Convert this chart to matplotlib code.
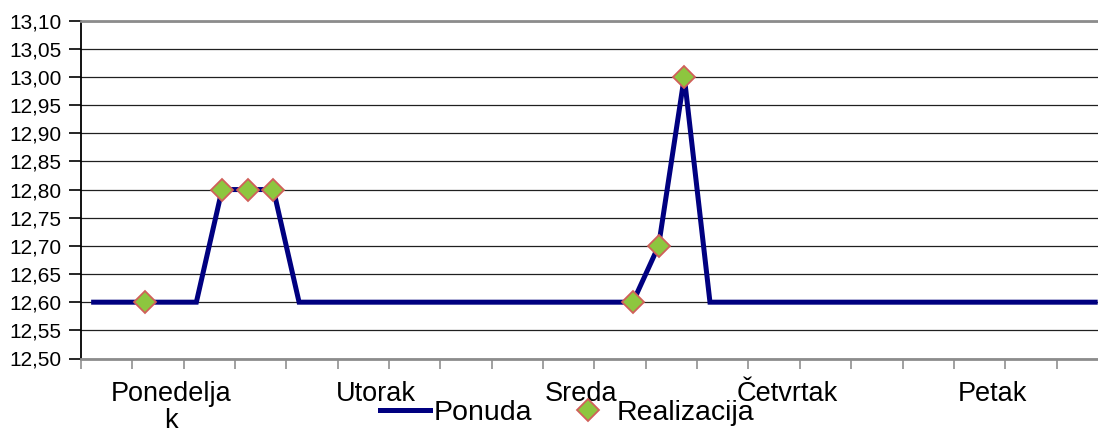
import matplotlib
matplotlib.use("Agg")
import matplotlib.pyplot as plt
import numpy as np
from matplotlib.ticker import FixedLocator, FuncFormatter

plt.rcParams['font.family'] = ['Liberation Sans', 'DejaVu Sans']

# ---- data ----
days = ["Ponedelja\nk", "Utorak", "Sreda", "Četvrtak", "Petak"]
points_per_day = 8
day_label_offset = 3

ponuda = [12.60, 12.60, 12.60, 12.60, 12.60, 12.80, 12.80, 12.80,
          12.60, 12.60, 12.60, 12.60, 12.60, 12.60, 12.60, 12.60,
          12.60, 12.60, 12.60, 12.60, 12.60, 12.60, 12.70, 13.00,
          12.60, 12.60, 12.60, 12.60, 12.60, 12.60, 12.60, 12.60,
          12.60, 12.60, 12.60, 12.60, 12.60, 12.60, 12.60, 12.60]

realizacija = [None, None, 12.60, None, None, 12.80, 12.80, 12.80,
               None, None, None, None, None, None, None, None,
               None, None, None, None, None, 12.60, 12.70, 13.00,
               None, None, None, None, None, None, None, None,
               None, None, None, None, None, None, None, None]

y_min, y_max, y_step = 12.50, 13.10, 0.05

# ---- figure ----
fig = plt.figure(figsize=(10.98, 4.29), dpi=100)
ax = fig.add_axes([80.8 / 1098, 1 - 358.5 / 429, (1108 - 80.8) / 1098, (358.5 - 20.6) / 429])

n = len(ponuda)
x = np.arange(n)
real = np.array([np.nan if v is None else v for v in realizacija], dtype=float)

ax.plot(x, ponuda, color='#000080', lw=3.6, solid_joinstyle='miter', label='Ponuda', zorder=3)
ax.plot(x, real, ls='none', marker='D', markersize=11, markerfacecolor='#8DC63F',
        markeredgecolor='#D0605A', markeredgewidth=1.3, label='Realizacija', zorder=4)

ax.set_xlim(-0.5, n - 0.5)
ax.set_ylim(y_min, y_max)

yticks = np.round(np.arange(y_min, y_max + y_step / 2, y_step), 2)
ax.set_yticks(yticks)
ax.yaxis.set_major_formatter(FuncFormatter(lambda v, p: f"{v:.2f}".replace('.', ',')))
ax.grid(axis='y', color='#202020', lw=0.9, zorder=1)
ax.set_axisbelow(True)

# category tick marks every two points, labels per day
ax.xaxis.set_major_locator(FixedLocator(np.arange(-0.5, n, 2)))
ax.xaxis.set_minor_locator(FixedLocator([i * points_per_day + day_label_offset for i in range(len(days))]))
ax.set_xticklabels([], minor=False)
ax.set_xticklabels(days, minor=True, fontsize=19.5, linespacing=1.05)
ax.tick_params(axis='x', which='major', length=7, width=1.2, color='#909090', direction='out')
ax.tick_params(axis='x', which='minor', length=0, pad=16)
ax.tick_params(axis='y', length=9, width=1.2, color='black', direction='out', labelsize=15, pad=5)

ax.spines['right'].set_visible(False)
ax.spines['top'].set_color('#8c8c8c')
ax.spines['top'].set_linewidth(2)
ax.spines['bottom'].set_color('#8c8c8c')
ax.spines['bottom'].set_linewidth(2)
ax.spines['left'].set_color('black')
ax.spines['left'].set_linewidth(1.3)

fig.legend(loc='center', bbox_to_anchor=(567 / 1098, 1 - 413 / 429), ncol=2, frameon=False,
           fontsize=20.5, handlelength=1.75, handletextpad=0.12, columnspacing=1.1,
           borderpad=0, borderaxespad=0)

fig.savefig('out.png', dpi=100)
